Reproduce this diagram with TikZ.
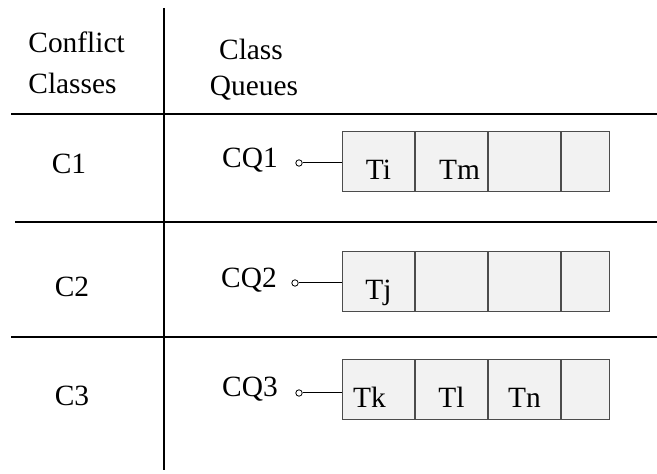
\documentclass[tikz,border=0pt]{standalone}
\usepackage{fontspec}
\setmainfont{Liberation Serif}
\usetikzlibrary{positioning}
\begin{document}
\begin{tikzpicture}[x=0.5pt,y=-0.5pt,
  font=\fontsize{14.7}{18}\selectfont,
  rule/.style={line width=0.6pt},
  lbl/.style={inner sep=0pt,anchor=base},
  cell/.style={draw=black!70,fill=black!5,line width=0.5pt,inner xsep=0pt,inner ysep=0pt,
    minimum width=36pt,text height=24pt,text depth=6pt},
  endcell/.style={cell,minimum width=24pt},
  port/.style={circle,draw,line width=0.4pt,inner sep=0pt,minimum size=3.2pt},
  ]
\useasboundingbox (0,0) rectangle (657,474);
\draw[rule] (164,8) -- (164,470);
\draw[rule] (11,114) -- (657,114);
\draw[rule] (15,222) -- (657,222);
\draw[rule] (11,337) -- (657,337);
\node[lbl,anchor=base west] (conflict) at (28,53) {Conflict};
\node[lbl,anchor=base west] (classes) at (28,94) {Classes};
\node[lbl] (class) at (251,60) {Class};
\node[lbl] (queues) at (254,96) {Queues};
\node[lbl] (c1) at (69,174) {C1};
\node[lbl] (c2) at (72,297) {C2};
\node[lbl] (c3) at (72,406) {C3};
\node[lbl] (cq1) at (250,168) {CQ1};
\node[lbl] (cq2) at (249,288) {CQ2};
\node[lbl] (cq3) at (250,397) {CQ3};
\node[cell,anchor=north west] (q11) at (342,131) {Ti};
\node[cell,right=0pt of q11] (q12) {\kern8pt Tm};
\node[cell,right=0pt of q12] (q13) {};
\node[endcell,right=0pt of q13] (q14) {};
\node[cell,anchor=north west] (q21) at (342,251) {Tj};
\node[cell,right=0pt of q21] (q22) {};
\node[cell,right=0pt of q22] (q23) {};
\node[endcell,right=0pt of q23] (q24) {};
\node[cell,anchor=north west] (q31) at (342,359) {Tk\kern9pt};
\node[cell,right=0pt of q31] (q32) {Tl};
\node[cell,right=0pt of q32] (q33) {Tn};
\node[endcell,right=0pt of q33] (q34) {};
\node[port] (p1) at (299,163) {};
\node[port] (p2) at (295,283) {};
\node[port] (p3) at (299,393) {};
\draw[line width=0.5pt] (p1) -- (p1 -| q11.west);
\draw[line width=0.5pt] (p2) -- (p2 -| q21.west);
\draw[line width=0.5pt] (p3) -- (p3 -| q31.west);
\end{tikzpicture}
\end{document}
